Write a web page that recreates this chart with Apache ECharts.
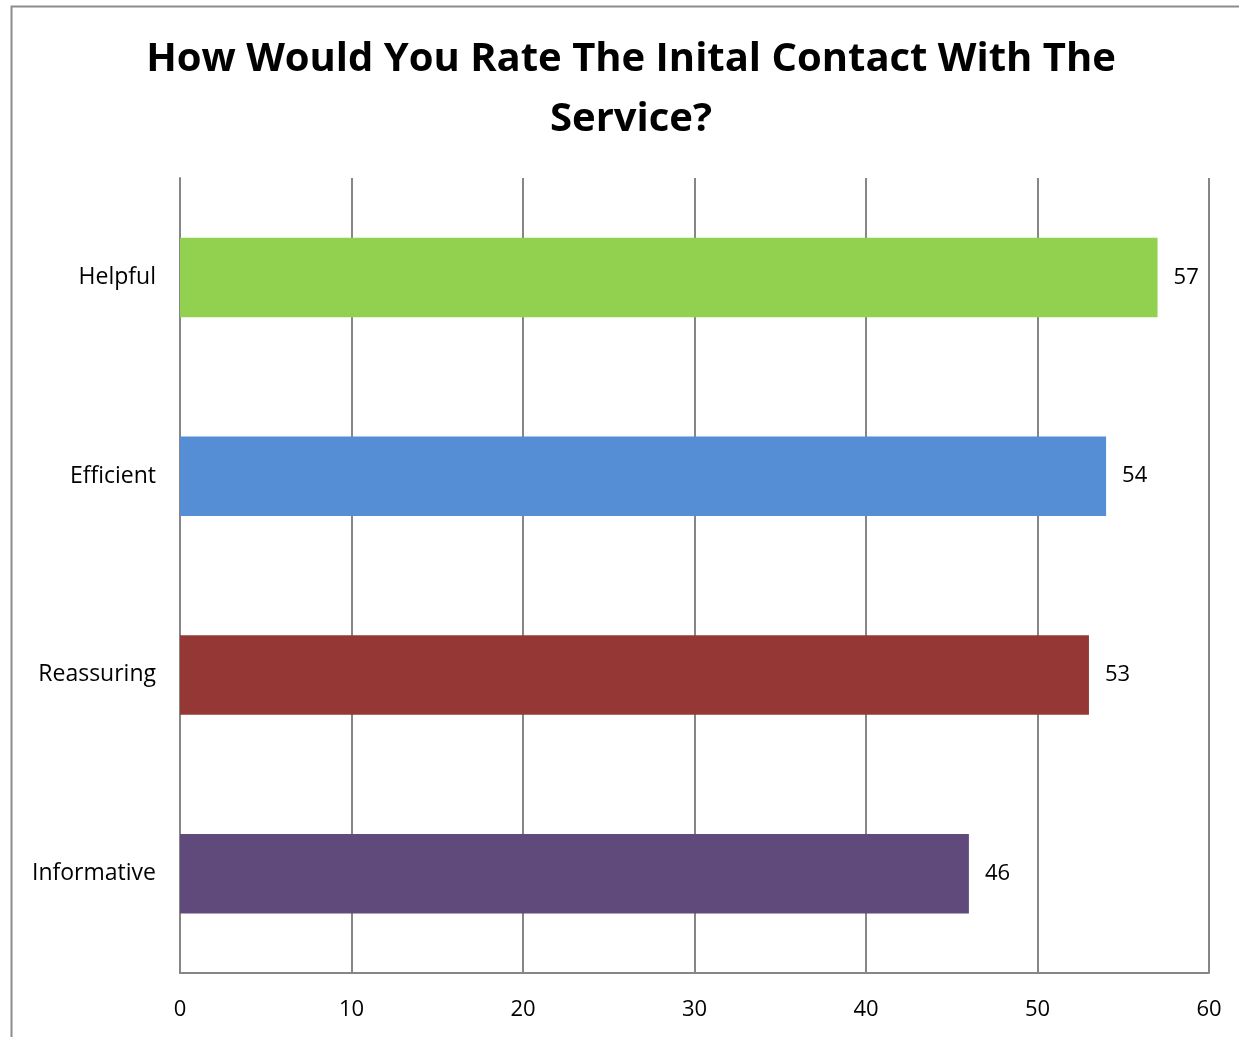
<!DOCTYPE html>
<html>
<head>
<meta charset="utf-8">
<script src="https://cdn.jsdelivr.net/npm/echarts@6/dist/echarts.min.js"></script>
<style>
  html, body { margin: 0; padding: 0; background: #fff; }
  #chart { width: 1239px; height: 1037px; }
</style>
</head>
<body>
<div id="chart"></div>
<script>
// Survey responses: rating of the initial contact with the service
const categories = ['Informative', 'Reassuring', 'Efficient', 'Helpful'];
const counts = [46, 53, 54, 57];
const barColors = ['#604A7B', '#953735', '#558ED5', '#92D050'];
const xTicks = { min: 0, max: 60, interval: 10 };

const FONT = '"Open Sans", "Noto Sans", sans-serif';

const chart = echarts.init(document.getElementById('chart'));
chart.setOption({
  animation: false,
  backgroundColor: '#ffffff',
  graphic: [{
    type: 'rect',
    shape: { x: 11.5, y: 6.5, width: 1300, height: 1100 },
    style: { fill: 'none', stroke: '#8c8c8c', lineWidth: 2 },
    silent: true
  }],
  title: {
    text: 'How Would You Rate The Inital Contact With The\nService?',
    left: 626,
    textAlign: 'center',
    top: 25,
    textStyle: {
      fontFamily: FONT,
      fontWeight: 'bold',
      fontSize: 40,
      lineHeight: 60,
      color: '#000'
    }
  },
  grid: { left: 180, right: 30, top: 178, bottom: 64, containLabel: false },
  xAxis: {
    type: 'value',
    min: xTicks.min,
    max: xTicks.max,
    interval: xTicks.interval,
    axisLine: { show: true, lineStyle: { color: '#868686', width: 2 } },
    axisTick: { show: false },
    axisLabel: { fontFamily: FONT, fontSize: 22, color: '#000', margin: 26 },
    splitLine: { show: true, lineStyle: { color: '#868686', width: 2 } }
  },
  yAxis: {
    type: 'category',
    data: categories,
    axisLine: { show: true, lineStyle: { color: '#868686', width: 2 } },
    axisTick: { show: false },
    axisLabel: { fontFamily: FONT, fontSize: 23, color: '#000', margin: 24 },
    splitLine: { show: false }
  },
  series: [{
    type: 'bar',
    data: counts.map((v, i) => ({ value: v, itemStyle: { color: barColors[i] } })),
    barWidth: '40%',
    label: {
      show: true,
      position: 'right',
      distance: 16,
      fontFamily: FONT,
      fontSize: 22,
      color: '#000'
    }
  }]
});
</script>
</body>
</html>
